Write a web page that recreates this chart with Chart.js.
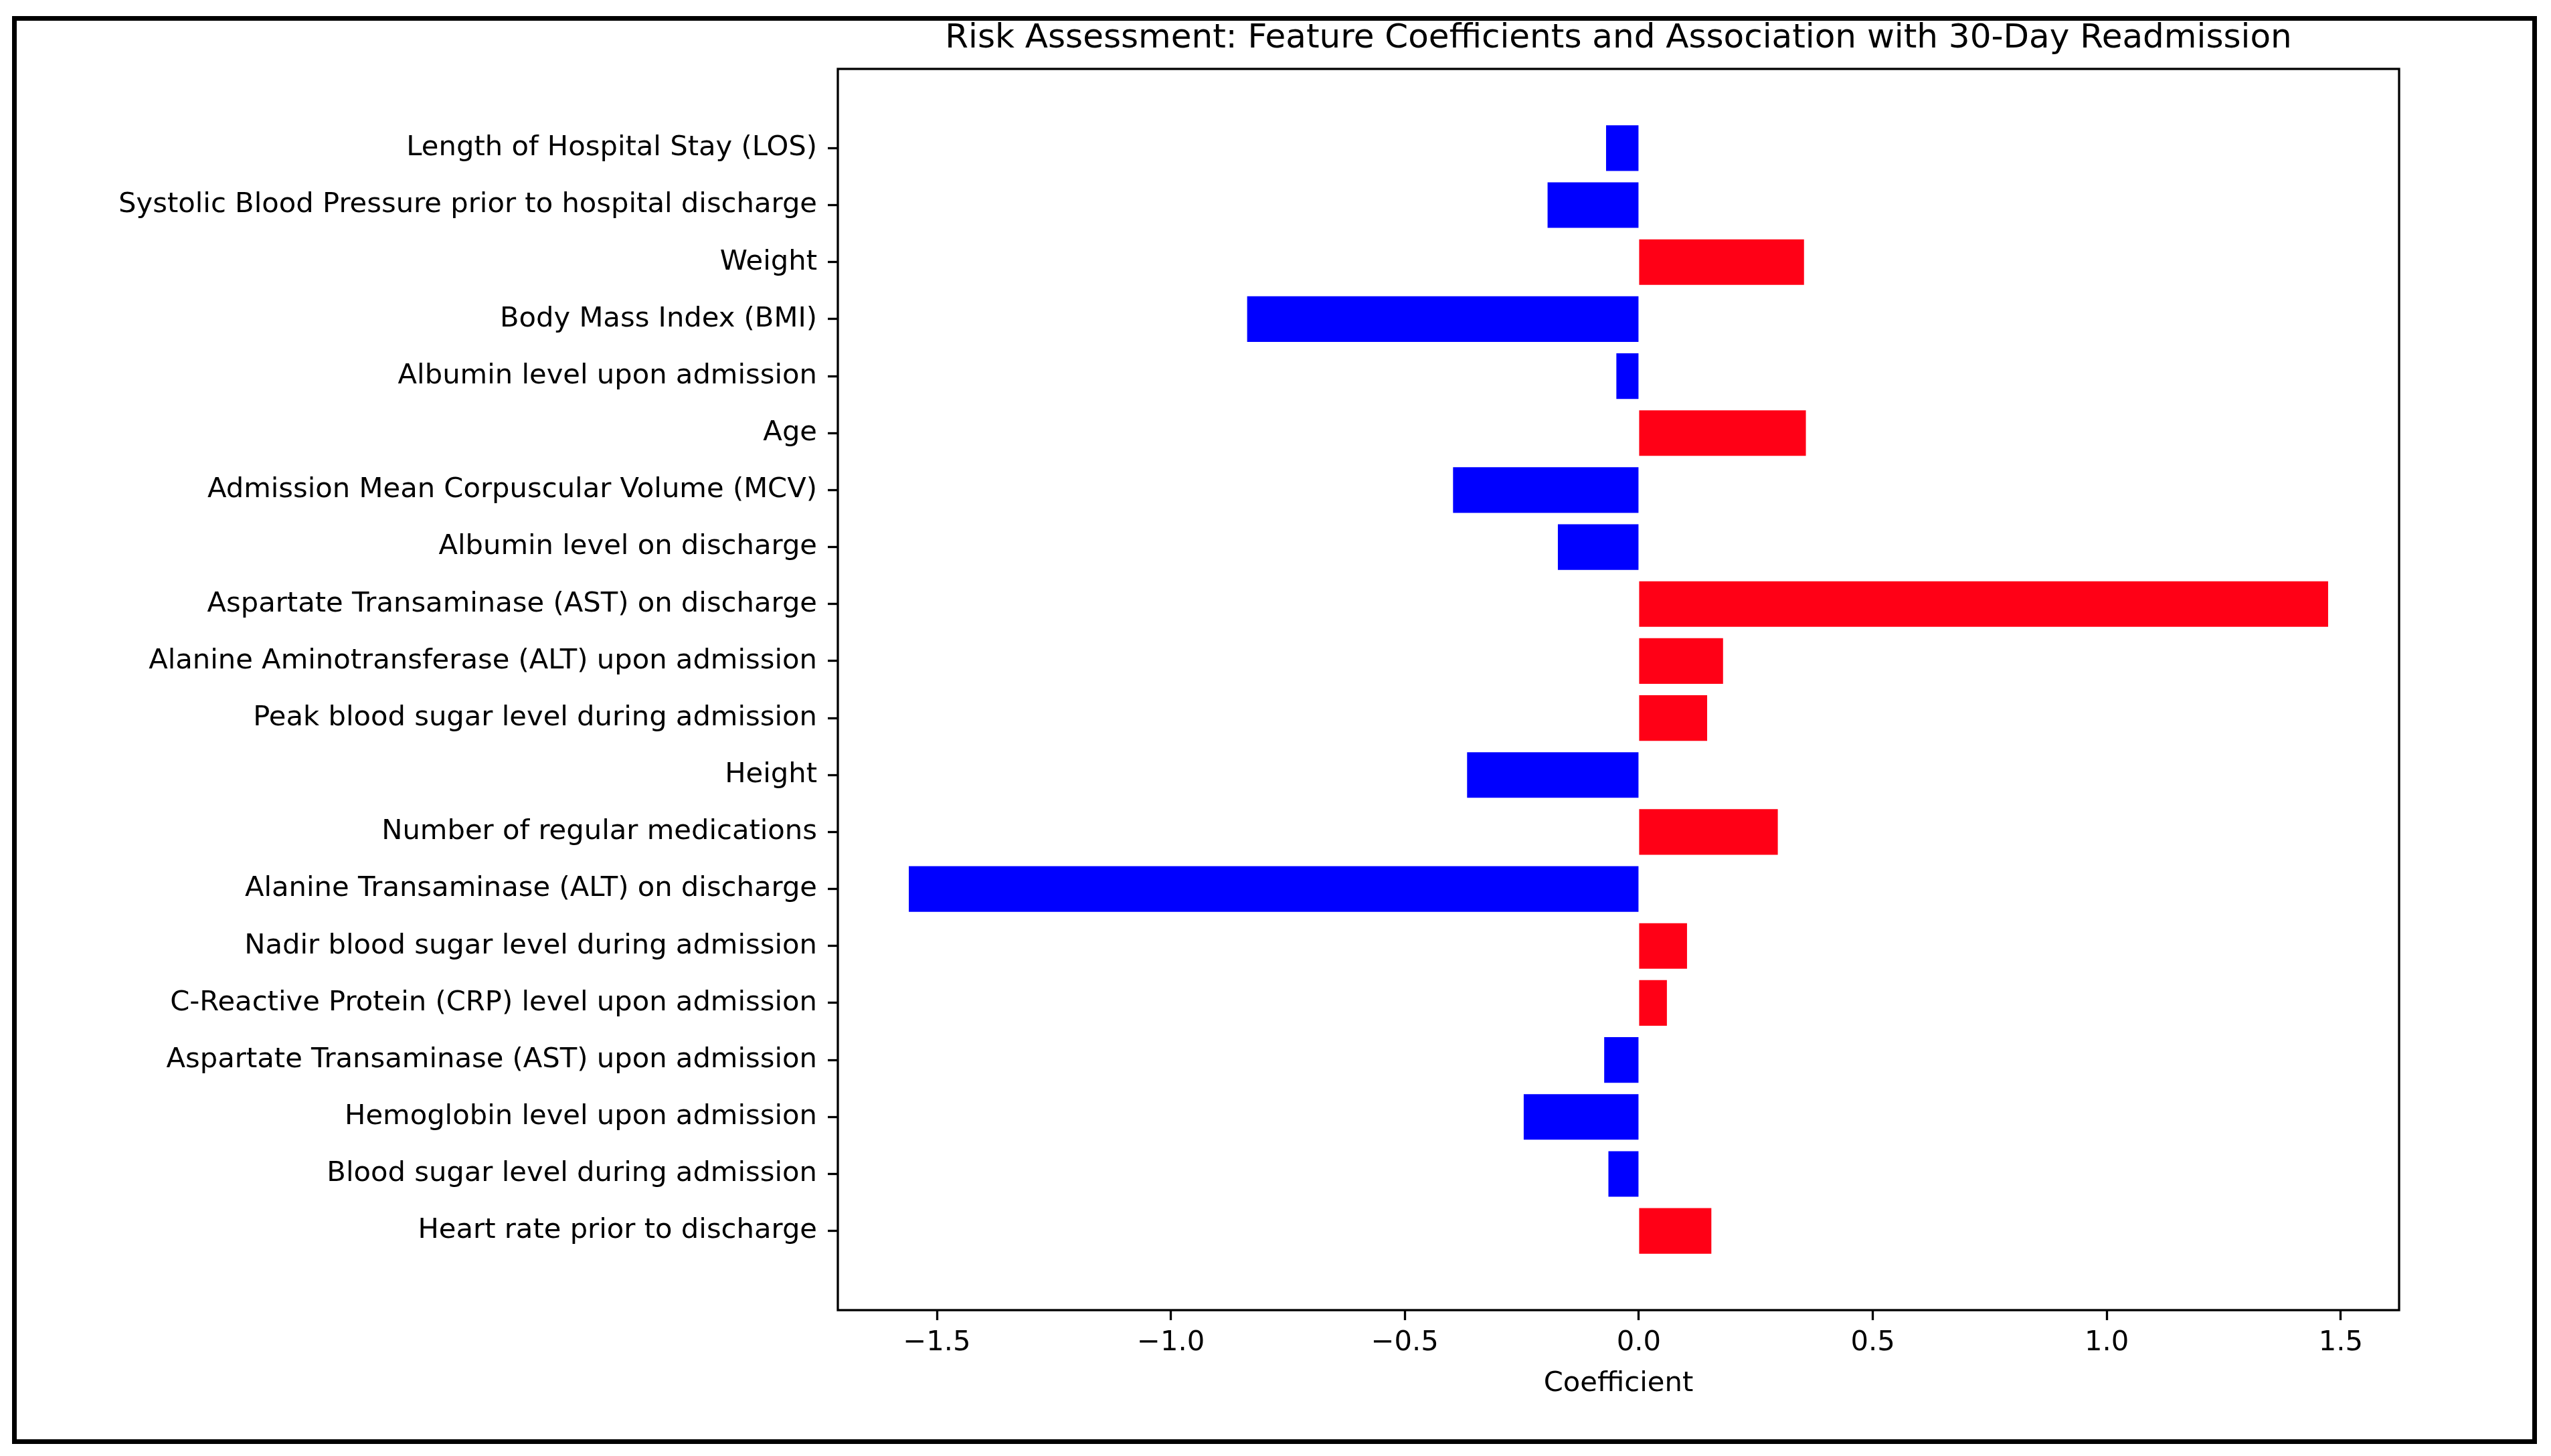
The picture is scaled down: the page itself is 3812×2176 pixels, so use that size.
<!DOCTYPE html>
<html lang="en">
<head>
    <meta charset="UTF-8">
    <title>Risk Assessment: Feature Coefficients</title>
    <script src="https://cdn.jsdelivr.net/npm/chart.js"></script>
    <style>
        html, body { margin: 0; padding: 0; background: #fff; overflow: hidden; }
        canvas { display: block; }
    </style>
</head>
<body>
    <canvas id="coefChart" width="3812" height="2176" style="width:3812px;height:2176px"></canvas>
    <script>
        // Features, top to bottom as in the figure
        const features = [
            "Length of Hospital Stay (LOS)",
            "Systolic Blood Pressure prior to hospital discharge",
            "Weight",
            "Body Mass Index (BMI)",
            "Albumin level upon admission",
            "Age",
            "Admission Mean Corpuscular Volume (MCV)",
            "Albumin level on discharge",
            "Aspartate Transaminase (AST) on discharge",
            "Alanine Aminotransferase (ALT) upon admission",
            "Peak blood sugar level during admission",
            "Height",
            "Number of regular medications",
            "Alanine Transaminase (ALT) on discharge",
            "Nadir blood sugar level during admission",
            "C-Reactive Protein (CRP) level upon admission",
            "Aspartate Transaminase (AST) upon admission",
            "Hemoglobin level upon admission",
            "Blood sugar level during admission",
            "Heart rate prior to discharge"
        ];

        // Coefficients
        const coefficients = [
            -0.070, -0.195, 0.353, -0.837, -0.048,
            0.357, -0.397, -0.173, 1.473, 0.180,
            0.146, -0.367, 0.297, -1.560, 0.103,
            0.060, -0.074, -0.246, -0.065, 0.155
        ];

        const xTickValues = [-1.5, -1.0, -0.5, 0.0, 0.5, 1.0, 1.5];
        const xTickLabels = ["\u22121.5", "\u22121.0", "\u22120.5", "0.0", "0.5", "1.0", "1.5"];

        const FONT = "'DejaVu Sans', sans-serif";
        const TICK_SIZE = 41.7;
        const TITLE_SIZE = 50;

        // matplotlib style 5% margins around the data
        const dMin = Math.min(0, ...coefficients);
        const dMax = Math.max(0, ...coefficients);
        const xPad = (dMax - dMin) * 0.05;
        const yLow = -0.4, yHigh = features.length - 1 + 0.4;
        const yPad = (yHigh - yLow) * 0.05;

        const barColors = coefficients.map(v => v >= 0 ? 'rgb(255, 0, 22)' : 'rgb(0, 0, 255)');

        // white background, outer black frame and the axes box
        const framePlugin = {
            id: 'frame',
            beforeDraw(chart) {
                const c = chart.ctx;
                c.save();
                c.fillStyle = '#fff';
                c.fillRect(0, 0, chart.width, chart.height);
                c.restore();
            },
            afterDraw(chart) {
                const c = chart.ctx;
                const a = chart.chartArea;
                c.save();
                c.strokeStyle = '#000';
                c.lineWidth = 3.3;
                c.strokeRect(a.left, a.top, a.right - a.left, a.bottom - a.top);
                c.lineWidth = 7;
                c.strokeRect(21.5, 27.5, 3766, 2127);
                c.restore();
            }
        };

        const ctx = document.getElementById('coefChart').getContext('2d');
        const coefChart = new Chart(ctx, {
            type: 'bar',
            data: {
                datasets: [{
                    label: 'Coefficient',
                    data: coefficients.map((v, i) => ({ x: v, y: i })),
                    backgroundColor: barColors,
                    borderWidth: 0,
                    barPercentage: 0.8,
                    categoryPercentage: 1.0
                }]
            },
            options: {
                indexAxis: 'y',
                responsive: false,
                devicePixelRatio: 1,
                animation: false,
                layout: { padding: { top: 0, right: 227, bottom: 0, left: 0 } },
                plugins: {
                    legend: { display: false },
                    tooltip: { enabled: false },
                    title: {
                        display: true,
                        fullSize: false,
                        text: 'Risk Assessment: Feature Coefficients and Association with 30-Day Readmission',
                        color: '#000',
                        font: { family: FONT, size: TITLE_SIZE, weight: 'normal' },
                        padding: { top: 28, bottom: 15 }
                    }
                },
                scales: {
                    x: {
                        type: 'linear',
                        min: dMin - xPad,
                        max: dMax + xPad,
                        afterBuildTicks: scale => {
                            scale.ticks = xTickValues.map(v => ({ value: v }));
                        },
                        afterFit: scale => { scale.height = 218; },
                        ticks: {
                            color: '#000',
                            font: { family: FONT, size: TICK_SIZE },
                            padding: 9,
                            maxRotation: 0,
                            autoSkip: false,
                            callback: (value, index) => xTickLabels[index]
                        },
                        grid: {
                            display: true,
                            drawOnChartArea: false,
                            drawTicks: true,
                            tickLength: 15,
                            tickWidth: 3.3,
                            tickColor: '#000'
                        },
                        border: { display: false },
                        title: {
                            display: true,
                            text: 'Coefficient',
                            color: '#000',
                            font: { family: FONT, size: TICK_SIZE },
                            padding: { top: 0, bottom: 83 }
                        }
                    },
                    y: {
                        type: 'linear',
                        reverse: true,
                        offset: false,
                        min: yLow - yPad,
                        max: yHigh + yPad,
                        afterBuildTicks: scale => {
                            scale.ticks = features.map((f, i) => ({ value: i }));
                        },
                        afterFit: scale => { scale.width = 1252; },
                        ticks: {
                            color: '#000',
                            font: { family: FONT, size: TICK_SIZE },
                            padding: 16,
                            autoSkip: false,
                            callback: value => features[value]
                        },
                        grid: {
                            display: true,
                            offset: false,
                            drawOnChartArea: false,
                            drawTicks: true,
                            tickLength: 15,
                            tickWidth: 3.3,
                            tickColor: '#000'
                        },
                        border: { display: false }
                    }
                }
            },
            plugins: [framePlugin]
        });
    </script>
</body>
</html>
